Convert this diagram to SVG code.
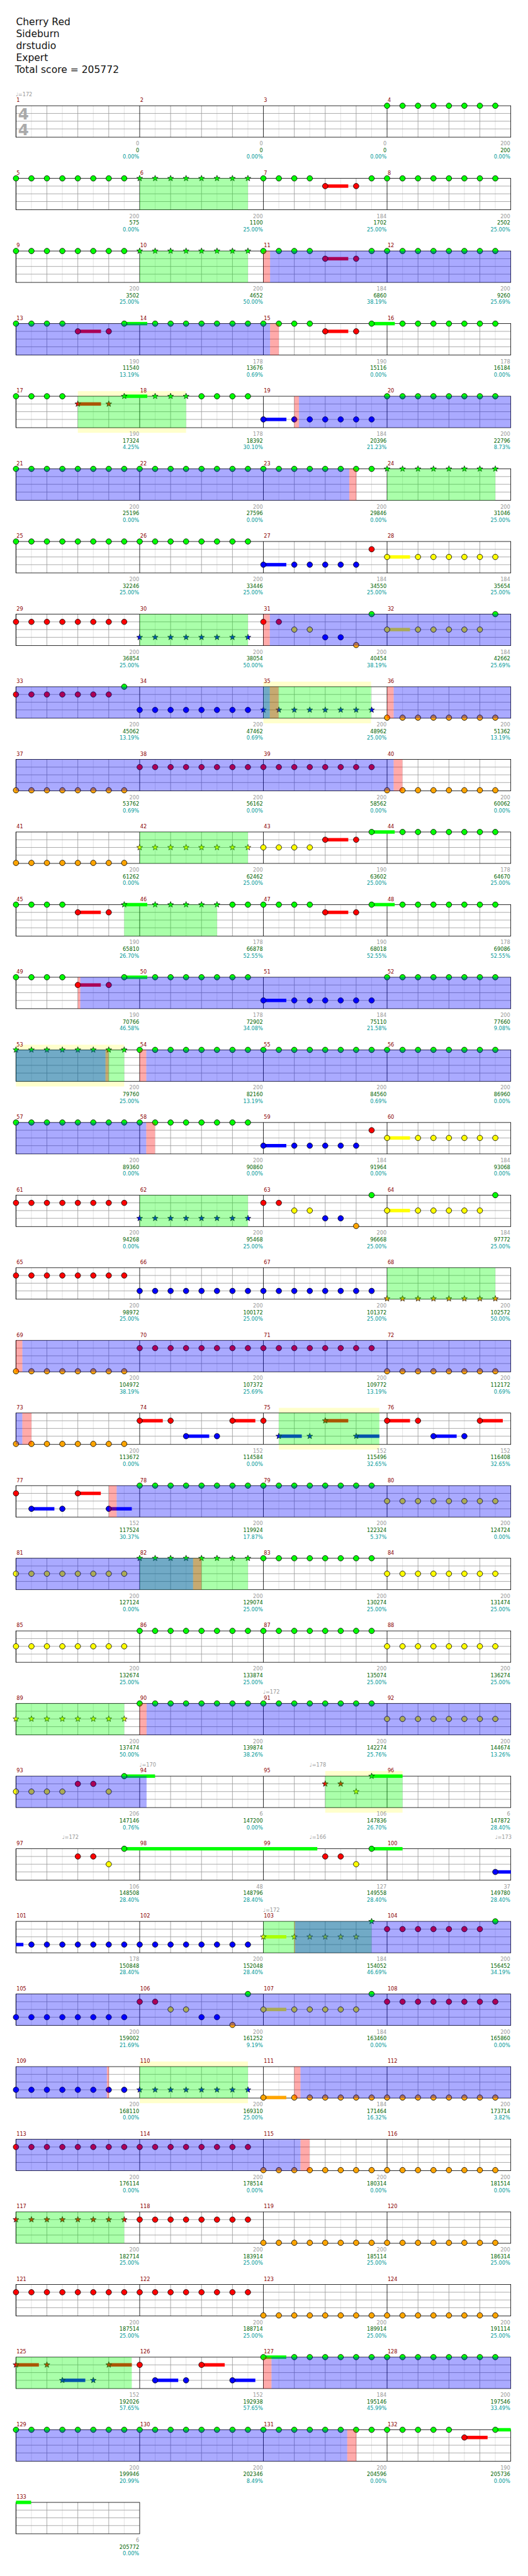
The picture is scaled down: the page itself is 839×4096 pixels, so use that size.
<svg xmlns="http://www.w3.org/2000/svg" width="839" height="4096" viewBox="0 0 839 4096">
<style>
text{font-family:"DejaVu Sans",Verdana,sans-serif}
.t{font-size:19px;fill:#111}
.m{font-size:10px;fill:#8b0000}
.tp{font-size:10px;fill:#999}
.lb{font-size:10px;text-anchor:end}
.a{fill:#999}.b{fill:#006400}.c{fill:#009999}
.bg{fill:#fff}
.yl{fill:#ffffcc}
.G{fill:#00ff00}.R{fill:#ff0000}.Y{fill:#ffff00}.B{fill:#0000ff}.O{fill:#ffa500}
.og{fill:#00ff00;fill-opacity:.333}.ob{fill:#0000ff;fill-opacity:.333}.or{fill:#ff0000;fill-opacity:.333}
.ts{font-size:30px;font-weight:bold;fill:#aaa}
</style>
<defs>
<circle id="c" r="5.3" stroke="#000" stroke-width="1"/>
<path id="s" stroke="#000" stroke-width=".8" d="M0-6L1.47-2.02 5.71-1.85 2.38.77 3.53 4.85 0 2.5-3.53 4.85-2.38.77-5.71-1.85-1.47-2.02Z"/>
<g id="c4"><use href="#c"/><use href="#c" x="30"/><use href="#c" x="60"/><use href="#c" x="90"/></g>
<g id="c8"><use href="#c4"/><use href="#c4" x="120"/></g>
<g id="s4"><use href="#s"/><use href="#s" x="30"/><use href="#s" x="60"/><use href="#s" x="90"/></g>
<g id="s8"><use href="#s4"/><use href="#s4" x="120"/></g>
<g id="gm">
<path d="M30 0V61M90 0V61M150 0V61M210 0V61" stroke="#ddd" fill="none"/>
<path d="M60 0V61M120 0V61M180 0V61M0 15H240M0 30H240M0 45H240" stroke="#999" fill="none"/>
<path d="M0 0V61" stroke="#000"/>
</g>
<g id="grid"><use href="#gm" x="31"/><use href="#gm" x="271"/><use href="#gm" x="511"/><use href="#gm" x="751"/><rect x="31" width="960" height="61" fill="none" stroke="#000"/></g>
</defs>
<rect width="839" height="4096" fill="#fff"/>
<g transform="scale(0.819)">
<g id="title">
<text class="t" x="31" y="49.3">Cherry Red</text>
<text class="t" x="31" y="72.3">Sideburn</text>
<text class="t" x="31" y="95.3">drstudio</text>
<text class="t" x="31" y="118.3">Expert</text>
<text class="t" x="29" y="141.3">Total score = 205772</text>
</g>

<g id="row0" transform="translate(0,205.3)">
<rect class="bg" x="31" width="960" height="61"/><use href="#grid"/>
<text class="ts" x="35" y="26.4">4</text><text class="ts" x="35" y="56.7">4</text>
<use href="#c8" x="751" class="G"/>
<text class="tp" x="30.5" y="-19">♩=172</text>
<text class="m" y="-7"><tspan x="32">1</tspan><tspan x="272">2</tspan><tspan x="512">3</tspan><tspan x="752">4</tspan></text>
<text class="lb a" y="77"><tspan x="270">0</tspan><tspan x="510">0</tspan><tspan x="750">0</tspan><tspan x="990">200</tspan></text>
<text class="lb b" y="90"><tspan x="270">0</tspan><tspan x="510">0</tspan><tspan x="750">0</tspan><tspan x="990">200</tspan></text>
<text class="lb c" y="103"><tspan x="270">0.00%</tspan><tspan x="510">0.00%</tspan><tspan x="750">0.00%</tspan><tspan x="990">0.00%</tspan></text>
</g>

<g id="row1" transform="translate(0,346.3)">
<rect class="bg" x="31" width="960" height="61"/><use href="#grid"/>
<rect x="631" y="11.7" width="44.7" height="6.6" class="R"/>
<use href="#c8" x="31" class="G"/><use href="#s8" x="271" class="G"/><use href="#c4" x="511" class="G"/><use href="#c" x="721" class="G"/><use href="#c8" x="751" class="G"/>
<use href="#c" x="631" y="15" class="R"/><use href="#c" x="691" y="15" class="R"/>
<rect x="271" width="210" height="61" class="og"/>
<text class="m" y="-7"><tspan x="32">5</tspan><tspan x="272">6</tspan><tspan x="512">7</tspan><tspan x="752">8</tspan></text>
<text class="lb a" y="77"><tspan x="270">200</tspan><tspan x="510">200</tspan><tspan x="750">184</tspan><tspan x="990">200</tspan></text>
<text class="lb b" y="90"><tspan x="270">575</tspan><tspan x="510">1100</tspan><tspan x="750">1702</tspan><tspan x="990">2502</tspan></text>
<text class="lb c" y="103"><tspan x="270">0.00%</tspan><tspan x="510">25.00%</tspan><tspan x="750">25.00%</tspan><tspan x="990">25.00%</tspan></text>
</g>

<g id="row2" transform="translate(0,487.3)">
<rect class="bg" x="31" width="960" height="61"/><use href="#grid"/>
<rect x="631" y="11.7" width="44.7" height="6.6" class="R"/>
<use href="#c8" x="31" class="G"/><use href="#s8" x="271" class="G"/><use href="#c4" x="511" class="G"/><use href="#c" x="721" class="G"/><use href="#c8" x="751" class="G"/>
<use href="#c" x="631" y="15" class="R"/><use href="#c" x="691" y="15" class="R"/>
<rect x="271" width="210" height="61" class="og"/><rect x="511" width="13" height="61" class="or"/><rect x="524" width="467" height="61" class="ob"/>
<text class="m" y="-7"><tspan x="32">9</tspan><tspan x="272">10</tspan><tspan x="512">11</tspan><tspan x="752">12</tspan></text>
<text class="lb a" y="77"><tspan x="270">200</tspan><tspan x="510">200</tspan><tspan x="750">184</tspan><tspan x="990">200</tspan></text>
<text class="lb b" y="90"><tspan x="270">3502</tspan><tspan x="510">4652</tspan><tspan x="750">6860</tspan><tspan x="990">9260</tspan></text>
<text class="lb c" y="103"><tspan x="270">25.00%</tspan><tspan x="510">50.00%</tspan><tspan x="750">38.19%</tspan><tspan x="990">25.69%</tspan></text>
</g>

<g id="row3" transform="translate(0,628.3)">
<rect class="bg" x="31" width="960" height="61"/><use href="#grid"/>
<rect x="151" y="11.7" width="45" height="6.6" class="R"/><rect x="241" y="-3.3" width="44.7" height="6.6" class="G"/><rect x="631" y="11.7" width="44.7" height="6.6" class="R"/><rect x="721" y="-3.3" width="45" height="6.6" class="G"/>
<use href="#c4" x="31" class="G"/><use href="#c" x="241" class="G"/><use href="#c8" x="301" class="G"/><use href="#c" x="541" class="G"/><use href="#c" x="571" class="G"/><use href="#c" x="601" class="G"/><use href="#c" x="721" class="G"/><use href="#c4" x="781" class="G"/><use href="#c" x="901" class="G"/><use href="#c" x="931" class="G"/><use href="#c" x="961" class="G"/>
<use href="#c" x="151" y="15" class="R"/><use href="#c" x="211" y="15" class="R"/><use href="#c" x="631" y="15" class="R"/><use href="#c" x="691" y="15" class="R"/>
<rect x="31" width="493" height="61" class="ob"/><rect x="524" width="17" height="61" class="or"/>
<text class="m" y="-7"><tspan x="32">13</tspan><tspan x="272">14</tspan><tspan x="512">15</tspan><tspan x="752">16</tspan></text>
<text class="lb a" y="77"><tspan x="270">190</tspan><tspan x="510">178</tspan><tspan x="750">190</tspan><tspan x="990">178</tspan></text>
<text class="lb b" y="90"><tspan x="270">11540</tspan><tspan x="510">13676</tspan><tspan x="750">15116</tspan><tspan x="990">16184</tspan></text>
<text class="lb c" y="103"><tspan x="270">13.19%</tspan><tspan x="510">0.69%</tspan><tspan x="750">0.00%</tspan><tspan x="990">0.00%</tspan></text>
</g>

<g id="row4" transform="translate(0,769.3)">
<rect x="151" y="-10" width="210" height="81" class="yl"/>
<rect class="bg" x="31" width="960" height="61"/><use href="#grid"/>
<rect x="151" y="11.7" width="45" height="6.6" class="R"/><rect x="241" y="-3.3" width="44.7" height="6.6" class="G"/><rect x="511" y="41.7" width="44.7" height="6.6" class="B"/>
<use href="#c4" x="31" class="G"/><use href="#s" x="241" class="G"/><use href="#s" x="301" class="G"/><use href="#s" x="331" class="G"/><use href="#s" x="361" class="G"/><use href="#c4" x="391" class="G"/><use href="#c8" x="751" class="G"/>
<use href="#s" x="151" y="15" class="R"/><use href="#s" x="211" y="15" class="R"/>
<use href="#c" x="511" y="45" class="B"/><use href="#c" x="571" y="45" class="B"/><use href="#c" x="601" y="45" class="B"/><use href="#c" x="631" y="45" class="B"/><use href="#c" x="661" y="45" class="B"/><use href="#c" x="691" y="45" class="B"/><use href="#c" x="721" y="45" class="B"/>
<rect x="151" width="210" height="61" class="og"/><rect x="571" width="9" height="61" class="or"/><rect x="580" width="411" height="61" class="ob"/>
<text class="m" y="-7"><tspan x="32">17</tspan><tspan x="272">18</tspan><tspan x="512">19</tspan><tspan x="752">20</tspan></text>
<text class="lb a" y="77"><tspan x="270">190</tspan><tspan x="510">178</tspan><tspan x="750">184</tspan><tspan x="990">200</tspan></text>
<text class="lb b" y="90"><tspan x="270">17324</tspan><tspan x="510">18392</tspan><tspan x="750">20396</tspan><tspan x="990">22796</tspan></text>
<text class="lb c" y="103"><tspan x="270">4.25%</tspan><tspan x="510">30.10%</tspan><tspan x="750">21.23%</tspan><tspan x="990">8.73%</tspan></text>
</g>

<g id="row5" transform="translate(0,910.3)">
<rect class="bg" x="31" width="960" height="61"/><use href="#grid"/>
<use href="#c8" x="31" class="G"/><use href="#c8" x="271" class="G"/><use href="#c8" x="511" class="G"/><use href="#s8" x="751" class="G"/>
<rect x="751" width="210" height="61" class="og"/><rect x="31" width="646.6" height="61" class="ob"/><rect x="677.6" width="13.7" height="61" class="or"/>
<text class="m" y="-7"><tspan x="32">21</tspan><tspan x="272">22</tspan><tspan x="512">23</tspan><tspan x="752">24</tspan></text>
<text class="lb a" y="77"><tspan x="270">200</tspan><tspan x="510">200</tspan><tspan x="750">200</tspan><tspan x="990">200</tspan></text>
<text class="lb b" y="90"><tspan x="270">25196</tspan><tspan x="510">27596</tspan><tspan x="750">29846</tspan><tspan x="990">31046</tspan></text>
<text class="lb c" y="103"><tspan x="270">0.00%</tspan><tspan x="510">0.00%</tspan><tspan x="750">0.00%</tspan><tspan x="990">25.00%</tspan></text>
</g>

<g id="row6" transform="translate(0,1051.3)">
<rect class="bg" x="31" width="960" height="61"/><use href="#grid"/>
<rect x="511" y="41.7" width="44.5" height="6.6" class="B"/><rect x="751" y="26.7" width="44.5" height="6.6" class="Y"/>
<use href="#c8" x="31" class="G"/><use href="#c8" x="271" class="G"/>
<use href="#c" x="511" y="45" class="B"/><use href="#c" x="571" y="45" class="B"/><use href="#c" x="601" y="45" class="B"/><use href="#c" x="631" y="45" class="B"/><use href="#c" x="661" y="45" class="B"/><use href="#c" x="691" y="45" class="B"/>
<use href="#c" x="721" y="15" class="R"/>
<use href="#c" x="751" y="30" class="Y"/><use href="#c" x="811" y="30" class="Y"/><use href="#c" x="841" y="30" class="Y"/><use href="#c" x="871" y="30" class="Y"/><use href="#c" x="901" y="30" class="Y"/><use href="#c" x="931" y="30" class="Y"/><use href="#c" x="961" y="30" class="Y"/>
<text class="m" y="-7"><tspan x="32">25</tspan><tspan x="272">26</tspan><tspan x="512">27</tspan><tspan x="752">28</tspan></text>
<text class="lb a" y="77"><tspan x="270">200</tspan><tspan x="510">200</tspan><tspan x="750">184</tspan><tspan x="990">184</tspan></text>
<text class="lb b" y="90"><tspan x="270">32246</tspan><tspan x="510">33446</tspan><tspan x="750">34550</tspan><tspan x="990">35654</tspan></text>
<text class="lb c" y="103"><tspan x="270">25.00%</tspan><tspan x="510">25.00%</tspan><tspan x="750">25.00%</tspan><tspan x="990">25.00%</tspan></text>
</g>

<g id="row7" transform="translate(0,1192.3)">
<rect class="bg" x="31" width="960" height="61"/><use href="#grid"/>
<rect x="751" y="26.7" width="44.5" height="6.6" class="Y"/>
<use href="#c8" x="31" y="15" class="R"/><use href="#s8" x="271" y="45" class="B"/>
<use href="#c" x="511" y="15" class="R"/><use href="#c" x="541" y="15" class="R"/><use href="#c" x="571" y="30" class="Y"/><use href="#c" x="601" y="30" class="Y"/><use href="#c" x="631" y="45" class="B"/><use href="#c" x="661" y="45" class="B"/><use href="#c" x="691" y="60" class="O"/><use href="#c" x="721" class="G"/>
<use href="#c" x="751" y="30" class="Y"/><use href="#c" x="811" y="30" class="Y"/><use href="#c" x="841" y="30" class="Y"/><use href="#c" x="871" y="30" class="Y"/><use href="#c" x="901" y="30" class="Y"/><use href="#c" x="931" y="30" class="Y"/><use href="#c" x="961" class="G"/>
<rect x="271" width="210" height="61" class="og"/><rect x="511" width="12.5" height="61" class="or"/><rect x="523.5" width="467.5" height="61" class="ob"/>
<text class="m" y="-7"><tspan x="32">29</tspan><tspan x="272">30</tspan><tspan x="512">31</tspan><tspan x="752">32</tspan></text>
<text class="lb a" y="77"><tspan x="270">200</tspan><tspan x="510">200</tspan><tspan x="750">200</tspan><tspan x="990">184</tspan></text>
<text class="lb b" y="90"><tspan x="270">36854</tspan><tspan x="510">38054</tspan><tspan x="750">40454</tspan><tspan x="990">42662</tspan></text>
<text class="lb c" y="103"><tspan x="270">25.00%</tspan><tspan x="510">50.00%</tspan><tspan x="750">38.19%</tspan><tspan x="990">25.69%</tspan></text>
</g>

<g id="row8" transform="translate(0,1333.3)">
<rect x="511" y="-10" width="209" height="81" class="yl"/>
<rect class="bg" x="31" width="960" height="61"/><use href="#grid"/>
<use href="#c4" x="31" y="15" class="R"/><use href="#c" x="151" y="15" class="R"/><use href="#c" x="181" y="15" class="R"/><use href="#c" x="211" y="15" class="R"/><use href="#c" x="241" class="G"/>
<use href="#c8" x="271" y="45" class="B"/><use href="#s8" x="511" y="45" class="B"/><use href="#c8" x="751" y="60" class="O"/>
<rect x="511" width="209" height="61" class="og"/><rect x="31" width="492.5" height="61" class="ob"/><rect x="523.5" width="17" height="61" class="or"/><rect x="751" width="12.8" height="61" class="or"/><rect x="763.8" width="227.2" height="61" class="ob"/>
<text class="m" y="-7"><tspan x="32">33</tspan><tspan x="272">34</tspan><tspan x="512">35</tspan><tspan x="752">36</tspan></text>
<text class="lb a" y="77"><tspan x="270">200</tspan><tspan x="510">200</tspan><tspan x="750">200</tspan><tspan x="990">200</tspan></text>
<text class="lb b" y="90"><tspan x="270">45062</tspan><tspan x="510">47462</tspan><tspan x="750">48962</tspan><tspan x="990">51362</tspan></text>
<text class="lb c" y="103"><tspan x="270">13.19%</tspan><tspan x="510">0.69%</tspan><tspan x="750">25.00%</tspan><tspan x="990">13.19%</tspan></text>
</g>

<g id="row9" transform="translate(0,1474.3)">
<rect class="bg" x="31" width="960" height="61"/><use href="#grid"/>
<use href="#c8" x="31" y="60" class="O"/><use href="#c8" x="271" y="15" class="R"/><use href="#c8" x="511" y="15" class="R"/><use href="#c8" x="751" y="60" class="O"/>
<rect x="31" width="732.8" height="61" class="ob"/><rect x="763.8" width="17" height="61" class="or"/>
<text class="m" y="-7"><tspan x="32">37</tspan><tspan x="272">38</tspan><tspan x="512">39</tspan><tspan x="752">40</tspan></text>
<text class="lb a" y="77"><tspan x="270">200</tspan><tspan x="510">200</tspan><tspan x="750">200</tspan><tspan x="990">200</tspan></text>
<text class="lb b" y="90"><tspan x="270">53762</tspan><tspan x="510">56162</tspan><tspan x="750">58562</tspan><tspan x="990">60062</tspan></text>
<text class="lb c" y="103"><tspan x="270">0.69%</tspan><tspan x="510">0.00%</tspan><tspan x="750">0.00%</tspan><tspan x="990">0.00%</tspan></text>
</g>

<g id="row10" transform="translate(0,1615.3)">
<rect class="bg" x="31" width="960" height="61"/><use href="#grid"/>
<rect x="631" y="11.7" width="44.7" height="6.6" class="R"/><rect x="721" y="-3.3" width="44.8" height="6.6" class="G"/>
<use href="#c8" x="31" y="60" class="O"/><use href="#s8" x="271" y="30" class="Y"/><use href="#c4" x="511" y="30" class="Y"/>
<use href="#c" x="631" y="15" class="R"/><use href="#c" x="691" y="15" class="R"/>
<use href="#c" x="721" class="G"/><use href="#c4" x="781" class="G"/><use href="#c" x="901" class="G"/><use href="#c" x="931" class="G"/><use href="#c" x="961" class="G"/>
<rect x="271" width="210" height="61" class="og"/>
<text class="m" y="-7"><tspan x="32">41</tspan><tspan x="272">42</tspan><tspan x="512">43</tspan><tspan x="752">44</tspan></text>
<text class="lb a" y="77"><tspan x="270">200</tspan><tspan x="510">200</tspan><tspan x="750">190</tspan><tspan x="990">178</tspan></text>
<text class="lb b" y="90"><tspan x="270">61262</tspan><tspan x="510">62462</tspan><tspan x="750">63602</tspan><tspan x="990">64670</tspan></text>
<text class="lb c" y="103"><tspan x="270">0.00%</tspan><tspan x="510">25.00%</tspan><tspan x="750">25.00%</tspan><tspan x="990">25.00%</tspan></text>
</g>

<g id="row11" transform="translate(0,1756.3)">
<rect class="bg" x="31" width="960" height="61"/><use href="#grid"/>
<rect x="151" y="11.7" width="44.6" height="6.6" class="R"/><rect x="241" y="-3.3" width="44.7" height="6.6" class="G"/><rect x="631" y="11.7" width="44.7" height="6.6" class="R"/><rect x="721" y="-3.3" width="44.8" height="6.6" class="G"/>
<use href="#c4" x="31" class="G"/><use href="#s" x="241" class="G"/><use href="#s" x="301" class="G"/><use href="#s" x="331" class="G"/><use href="#s" x="361" class="G"/><use href="#s" x="391" class="G"/><use href="#s" x="421" class="G"/><use href="#c" x="451" class="G"/><use href="#c" x="481" class="G"/><use href="#c4" x="511" class="G"/>
<use href="#c" x="721" class="G"/><use href="#c4" x="781" class="G"/><use href="#c" x="901" class="G"/><use href="#c" x="931" class="G"/><use href="#c" x="961" class="G"/>
<use href="#c" x="151" y="15" class="R"/><use href="#c" x="211" y="15" class="R"/><use href="#c" x="631" y="15" class="R"/><use href="#c" x="691" y="15" class="R"/>
<rect x="241" width="180" height="61" class="og"/>
<text class="m" y="-7"><tspan x="32">45</tspan><tspan x="272">46</tspan><tspan x="512">47</tspan><tspan x="752">48</tspan></text>
<text class="lb a" y="77"><tspan x="270">190</tspan><tspan x="510">178</tspan><tspan x="750">190</tspan><tspan x="990">178</tspan></text>
<text class="lb b" y="90"><tspan x="270">65810</tspan><tspan x="510">66878</tspan><tspan x="750">68018</tspan><tspan x="990">69086</tspan></text>
<text class="lb c" y="103"><tspan x="270">26.70%</tspan><tspan x="510">52.55%</tspan><tspan x="750">52.55%</tspan><tspan x="990">52.55%</tspan></text>
</g>

<g id="row12" transform="translate(0,1897.3)">
<rect class="bg" x="31" width="960" height="61"/><use href="#grid"/>
<rect x="151" y="11.7" width="44.6" height="6.6" class="R"/><rect x="241" y="-3.3" width="44.7" height="6.6" class="G"/><rect x="511" y="41.7" width="44.5" height="6.6" class="B"/>
<use href="#c4" x="31" class="G"/><use href="#c" x="241" class="G"/><use href="#c4" x="301" class="G"/><use href="#c" x="421" class="G"/><use href="#c" x="451" class="G"/><use href="#c" x="481" class="G"/><use href="#c8" x="751" class="G"/>
<use href="#c" x="151" y="15" class="R"/><use href="#c" x="211" y="15" class="R"/>
<use href="#c" x="511" y="45" class="B"/><use href="#c" x="571" y="45" class="B"/><use href="#c" x="601" y="45" class="B"/><use href="#c" x="631" y="45" class="B"/><use href="#c" x="661" y="45" class="B"/><use href="#c" x="691" y="45" class="B"/><use href="#c" x="721" y="45" class="B"/>
<rect x="151.2" width="4.6" height="61" class="or"/><rect x="155.8" width="835.2" height="61" class="ob"/>
<text class="m" y="-7"><tspan x="32">49</tspan><tspan x="272">50</tspan><tspan x="512">51</tspan><tspan x="752">52</tspan></text>
<text class="lb a" y="77"><tspan x="270">190</tspan><tspan x="510">178</tspan><tspan x="750">184</tspan><tspan x="990">200</tspan></text>
<text class="lb b" y="90"><tspan x="270">70766</tspan><tspan x="510">72902</tspan><tspan x="750">75110</tspan><tspan x="990">77660</tspan></text>
<text class="lb c" y="103"><tspan x="270">46.58%</tspan><tspan x="510">34.08%</tspan><tspan x="750">21.58%</tspan><tspan x="990">9.08%</tspan></text>
</g>

<g id="row13" transform="translate(0,2038.3)">
<rect x="31" y="-10" width="210" height="81" class="yl"/>
<rect class="bg" x="31" width="960" height="61"/><use href="#grid"/>
<use href="#s8" x="31" class="G"/><use href="#c8" x="271" class="G"/><use href="#c8" x="511" class="G"/><use href="#c8" x="751" class="G"/>
<rect x="31" width="210" height="61" class="og"/><rect x="31" width="173.7" height="61" class="ob"/><rect x="204.7" width="5.9" height="61" class="or"/><rect x="271" width="12.8" height="61" class="or"/><rect x="283.8" width="707.2" height="61" class="ob"/>
<text class="m" y="-7"><tspan x="32">53</tspan><tspan x="272">54</tspan><tspan x="512">55</tspan><tspan x="752">56</tspan></text>
<text class="lb a" y="77"><tspan x="270">200</tspan><tspan x="510">200</tspan><tspan x="750">200</tspan><tspan x="990">200</tspan></text>
<text class="lb b" y="90"><tspan x="270">79760</tspan><tspan x="510">82160</tspan><tspan x="750">84560</tspan><tspan x="990">86960</tspan></text>
<text class="lb c" y="103"><tspan x="270">25.00%</tspan><tspan x="510">13.19%</tspan><tspan x="750">0.69%</tspan><tspan x="990">0.00%</tspan></text>
</g>

<g id="row14" transform="translate(0,2179.3)">
<rect class="bg" x="31" width="960" height="61"/><use href="#grid"/>
<rect x="511" y="41.7" width="44.5" height="6.6" class="B"/><rect x="751" y="26.7" width="44.5" height="6.6" class="Y"/>
<use href="#c8" x="31" class="G"/><use href="#c8" x="271" class="G"/>
<use href="#c" x="511" y="45" class="B"/><use href="#c" x="571" y="45" class="B"/><use href="#c" x="601" y="45" class="B"/><use href="#c" x="631" y="45" class="B"/><use href="#c" x="661" y="45" class="B"/><use href="#c" x="691" y="45" class="B"/>
<use href="#c" x="721" y="15" class="R"/>
<use href="#c" x="751" y="30" class="Y"/><use href="#c" x="811" y="30" class="Y"/><use href="#c" x="841" y="30" class="Y"/><use href="#c" x="871" y="30" class="Y"/><use href="#c" x="901" y="30" class="Y"/><use href="#c" x="931" y="30" class="Y"/><use href="#c" x="961" y="30" class="Y"/>
<rect x="31" width="252.8" height="61" class="ob"/><rect x="283.8" width="17" height="61" class="or"/>
<text class="m" y="-7"><tspan x="32">57</tspan><tspan x="272">58</tspan><tspan x="512">59</tspan><tspan x="752">60</tspan></text>
<text class="lb a" y="77"><tspan x="270">200</tspan><tspan x="510">200</tspan><tspan x="750">184</tspan><tspan x="990">184</tspan></text>
<text class="lb b" y="90"><tspan x="270">89360</tspan><tspan x="510">90860</tspan><tspan x="750">91964</tspan><tspan x="990">93068</tspan></text>
<text class="lb c" y="103"><tspan x="270">0.00%</tspan><tspan x="510">0.00%</tspan><tspan x="750">0.00%</tspan><tspan x="990">0.00%</tspan></text>
</g>

<g id="row15" transform="translate(0,2320.3)">
<rect class="bg" x="31" width="960" height="61"/><use href="#grid"/>
<rect x="751" y="26.7" width="44.5" height="6.6" class="Y"/>
<use href="#c8" x="31" y="15" class="R"/><use href="#s8" x="271" y="45" class="B"/>
<use href="#c" x="511" y="15" class="R"/><use href="#c" x="541" y="15" class="R"/><use href="#c" x="571" y="30" class="Y"/><use href="#c" x="601" y="30" class="Y"/><use href="#c" x="631" y="45" class="B"/><use href="#c" x="661" y="45" class="B"/><use href="#c" x="691" y="60" class="O"/><use href="#c" x="721" class="G"/>
<use href="#c" x="751" y="30" class="Y"/><use href="#c" x="811" y="30" class="Y"/><use href="#c" x="841" y="30" class="Y"/><use href="#c" x="871" y="30" class="Y"/><use href="#c" x="901" y="30" class="Y"/><use href="#c" x="931" y="30" class="Y"/><use href="#c" x="961" class="G"/>
<rect x="271" width="210" height="61" class="og"/>
<text class="m" y="-7"><tspan x="32">61</tspan><tspan x="272">62</tspan><tspan x="512">63</tspan><tspan x="752">64</tspan></text>
<text class="lb a" y="77"><tspan x="270">200</tspan><tspan x="510">200</tspan><tspan x="750">200</tspan><tspan x="990">184</tspan></text>
<text class="lb b" y="90"><tspan x="270">94268</tspan><tspan x="510">95468</tspan><tspan x="750">96668</tspan><tspan x="990">97772</tspan></text>
<text class="lb c" y="103"><tspan x="270">0.00%</tspan><tspan x="510">25.00%</tspan><tspan x="750">25.00%</tspan><tspan x="990">25.00%</tspan></text>
</g>

<g id="row16" transform="translate(0,2461.3)">
<rect class="bg" x="31" width="960" height="61"/><use href="#grid"/>
<use href="#c8" x="31" y="15" class="R"/><use href="#c8" x="271" y="45" class="B"/><use href="#c8" x="511" y="45" class="B"/><use href="#s8" x="751" y="60" class="O"/>
<rect x="751" width="210" height="61" class="og"/>
<text class="m" y="-7"><tspan x="32">65</tspan><tspan x="272">66</tspan><tspan x="512">67</tspan><tspan x="752">68</tspan></text>
<text class="lb a" y="77"><tspan x="270">200</tspan><tspan x="510">200</tspan><tspan x="750">200</tspan><tspan x="990">200</tspan></text>
<text class="lb b" y="90"><tspan x="270">98972</tspan><tspan x="510">100172</tspan><tspan x="750">101372</tspan><tspan x="990">102572</tspan></text>
<text class="lb c" y="103"><tspan x="270">25.00%</tspan><tspan x="510">25.00%</tspan><tspan x="750">25.00%</tspan><tspan x="990">50.00%</tspan></text>
</g>

<g id="row17" transform="translate(0,2602.3)">
<rect class="bg" x="31" width="960" height="61"/><use href="#grid"/>
<use href="#c8" x="31" y="60" class="O"/><use href="#c8" x="271" y="15" class="R"/><use href="#c8" x="511" y="15" class="R"/><use href="#c8" x="751" y="60" class="O"/>
<rect x="31" width="12.4" height="61" class="or"/><rect x="43.4" width="947.6" height="61" class="ob"/>
<text class="m" y="-7"><tspan x="32">69</tspan><tspan x="272">70</tspan><tspan x="512">71</tspan><tspan x="752">72</tspan></text>
<text class="lb a" y="77"><tspan x="270">200</tspan><tspan x="510">200</tspan><tspan x="750">200</tspan><tspan x="990">200</tspan></text>
<text class="lb b" y="90"><tspan x="270">104972</tspan><tspan x="510">107372</tspan><tspan x="750">109772</tspan><tspan x="990">112172</tspan></text>
<text class="lb c" y="103"><tspan x="270">38.19%</tspan><tspan x="510">25.69%</tspan><tspan x="750">13.19%</tspan><tspan x="990">0.69%</tspan></text>
</g>

<g id="row18" transform="translate(0,2743.3)">
<rect x="541" y="-10" width="195" height="81" class="yl"/>
<rect class="bg" x="31" width="960" height="61"/><use href="#grid"/>
<rect x="271" y="11.7" width="44.8" height="6.6" class="R"/><rect x="361" y="41.7" width="44.9" height="6.6" class="B"/><rect x="451" y="11.7" width="44.4" height="6.6" class="R"/><rect x="541" y="41.7" width="44.5" height="6.6" class="B"/><rect x="631" y="11.7" width="44.7" height="6.6" class="R"/><rect x="691" y="41.7" width="45" height="6.6" class="B"/><rect x="751" y="11.7" width="44.5" height="6.6" class="R"/><rect x="841" y="41.7" width="45" height="6.6" class="B"/><rect x="931" y="11.7" width="44.5" height="6.6" class="R"/>
<use href="#c8" x="31" y="60" class="O"/>
<use href="#c" x="271" y="15" class="R"/><use href="#c" x="331" y="15" class="R"/><use href="#c" x="451" y="15" class="R"/><use href="#c" x="511" y="15" class="R"/>
<use href="#c" x="361" y="45" class="B"/><use href="#c" x="421" y="45" class="B"/>
<use href="#s" x="541" y="45" class="B"/><use href="#s" x="601" y="45" class="B"/><use href="#s" x="691" y="45" class="B"/><use href="#s" x="631" y="15" class="R"/>
<use href="#c" x="751" y="15" class="R"/><use href="#c" x="811" y="15" class="R"/><use href="#c" x="931" y="15" class="R"/><use href="#c" x="841" y="45" class="B"/><use href="#c" x="901" y="45" class="B"/>
<rect x="31" width="12.4" height="61" class="ob"/><rect x="43.4" width="17.6" height="61" class="or"/><rect x="541" width="195" height="61" class="og"/>
<text class="m" y="-7"><tspan x="32">73</tspan><tspan x="272">74</tspan><tspan x="512">75</tspan><tspan x="752">76</tspan></text>
<text class="lb a" y="77"><tspan x="270">200</tspan><tspan x="510">152</tspan><tspan x="750">152</tspan><tspan x="990">152</tspan></text>
<text class="lb b" y="90"><tspan x="270">113672</tspan><tspan x="510">114584</tspan><tspan x="750">115496</tspan><tspan x="990">116408</tspan></text>
<text class="lb c" y="103"><tspan x="270">0.00%</tspan><tspan x="510">0.00%</tspan><tspan x="750">32.65%</tspan><tspan x="990">32.65%</tspan></text>
</g>

<g id="row19" transform="translate(0,2884.3)">
<rect class="bg" x="31" width="960" height="61"/><use href="#grid"/>
<rect x="61" y="41.7" width="44.5" height="6.6" class="B"/><rect x="151" y="11.7" width="44.6" height="6.6" class="R"/><rect x="211" y="41.7" width="44.7" height="6.6" class="B"/>
<use href="#c" x="31" y="15" class="R"/><use href="#c" x="151" y="15" class="R"/>
<use href="#c" x="61" y="45" class="B"/><use href="#c" x="121" y="45" class="B"/><use href="#c" x="211" y="45" class="B"/>
<use href="#c8" x="271" class="G"/><use href="#c8" x="511" class="G"/><use href="#c8" x="751" y="30" class="Y"/>
<rect x="211.3" width="15" height="61" class="or"/><rect x="226.3" width="764.7" height="61" class="ob"/>
<text class="m" y="-7"><tspan x="32">77</tspan><tspan x="272">78</tspan><tspan x="512">79</tspan><tspan x="752">80</tspan></text>
<text class="lb a" y="77"><tspan x="270">152</tspan><tspan x="510">200</tspan><tspan x="750">200</tspan><tspan x="990">200</tspan></text>
<text class="lb b" y="90"><tspan x="270">117524</tspan><tspan x="510">119924</tspan><tspan x="750">122324</tspan><tspan x="990">124724</tspan></text>
<text class="lb c" y="103"><tspan x="270">30.37%</tspan><tspan x="510">17.87%</tspan><tspan x="750">5.37%</tspan><tspan x="990">0.00%</tspan></text>
</g>

<g id="row20" transform="translate(0,3025.3)">
<rect class="bg" x="31" width="960" height="61"/><use href="#grid"/>
<use href="#c8" x="31" y="30" class="Y"/><use href="#s8" x="271" class="G"/><use href="#c8" x="511" class="G"/><use href="#c8" x="751" y="30" class="Y"/>
<rect x="271" width="210" height="61" class="og"/><rect x="31" width="343.6" height="61" class="ob"/><rect x="374.6" width="16.3" height="61" class="or"/>
<text class="m" y="-7"><tspan x="32">81</tspan><tspan x="272">82</tspan><tspan x="512">83</tspan><tspan x="752">84</tspan></text>
<text class="lb a" y="77"><tspan x="270">200</tspan><tspan x="510">200</tspan><tspan x="750">200</tspan><tspan x="990">200</tspan></text>
<text class="lb b" y="90"><tspan x="270">127124</tspan><tspan x="510">129074</tspan><tspan x="750">130274</tspan><tspan x="990">131474</tspan></text>
<text class="lb c" y="103"><tspan x="270">0.00%</tspan><tspan x="510">25.00%</tspan><tspan x="750">25.00%</tspan><tspan x="990">25.00%</tspan></text>
</g>

<g id="row21" transform="translate(0,3166.3)">
<rect class="bg" x="31" width="960" height="61"/><use href="#grid"/>
<use href="#c8" x="31" y="30" class="Y"/><use href="#c8" x="271" class="G"/><use href="#c8" x="511" class="G"/><use href="#c8" x="751" y="30" class="Y"/>
<text class="m" y="-7"><tspan x="32">85</tspan><tspan x="272">86</tspan><tspan x="512">87</tspan><tspan x="752">88</tspan></text>
<text class="lb a" y="77"><tspan x="270">200</tspan><tspan x="510">200</tspan><tspan x="750">200</tspan><tspan x="990">200</tspan></text>
<text class="lb b" y="90"><tspan x="270">132674</tspan><tspan x="510">133874</tspan><tspan x="750">135074</tspan><tspan x="990">136274</tspan></text>
<text class="lb c" y="103"><tspan x="270">25.00%</tspan><tspan x="510">25.00%</tspan><tspan x="750">25.00%</tspan><tspan x="990">25.00%</tspan></text>
</g>

<g id="row22" transform="translate(0,3307.3)">
<rect class="bg" x="31" width="960" height="61"/><use href="#grid"/>
<use href="#s8" x="31" y="30" class="Y"/><use href="#c8" x="271" class="G"/><use href="#c8" x="511" class="G"/><use href="#c8" x="751" y="30" class="Y"/>
<rect x="31" width="210" height="61" class="og"/><rect x="271" width="13.4" height="61" class="or"/><rect x="284.4" width="706.6" height="61" class="ob"/>
<text class="tp" x="510.5" y="-19">♩=172</text>
<text class="m" y="-7"><tspan x="32">89</tspan><tspan x="272">90</tspan><tspan x="512">91</tspan><tspan x="752">92</tspan></text>
<text class="lb a" y="77"><tspan x="270">200</tspan><tspan x="510">200</tspan><tspan x="750">200</tspan><tspan x="990">200</tspan></text>
<text class="lb b" y="90"><tspan x="270">137474</tspan><tspan x="510">139874</tspan><tspan x="750">142274</tspan><tspan x="990">144674</tspan></text>
<text class="lb c" y="103"><tspan x="270">50.00%</tspan><tspan x="510">38.26%</tspan><tspan x="750">25.76%</tspan><tspan x="990">13.26%</tspan></text>
</g>

<g id="row23" transform="translate(0,3448.3)">
<rect x="631" y="-10" width="150" height="81" class="yl"/>
<rect class="bg" x="31" width="960" height="61"/><use href="#grid"/>
<rect x="241" y="-3.3" width="59.8" height="6.6" class="G"/><rect x="721" y="-3.3" width="60" height="6.6" class="G"/>
<use href="#c4" x="31" y="30" class="Y"/><use href="#c" x="151" y="15" class="R"/><use href="#c" x="181" y="15" class="R"/><use href="#c" x="211" y="30" class="Y"/><use href="#c" x="241" class="G"/>
<use href="#s" x="631" y="15" class="R"/><use href="#s" x="661" y="15" class="R"/><use href="#s" x="691" y="30" class="Y"/><use href="#s" x="721" class="G"/>
<rect x="31" width="253.4" height="61" class="ob"/><rect x="631" width="150" height="61" class="og"/>
<text class="tp" x="270.5" y="-19">♩=170</text><text class="tp" x="600.5" y="-19">♩=178</text>
<text class="m" y="-7"><tspan x="32">93</tspan><tspan x="272">94</tspan><tspan x="512">95</tspan><tspan x="752">96</tspan></text>
<text class="lb a" y="77"><tspan x="270">206</tspan><tspan x="510">6</tspan><tspan x="750">106</tspan><tspan x="990">6</tspan></text>
<text class="lb b" y="90"><tspan x="270">147146</tspan><tspan x="510">147200</tspan><tspan x="750">147836</tspan><tspan x="990">147872</tspan></text>
<text class="lb c" y="103"><tspan x="270">0.76%</tspan><tspan x="510">0.00%</tspan><tspan x="750">26.70%</tspan><tspan x="990">28.40%</tspan></text>
</g>

<g id="row24" transform="translate(0,3589.3)">
<rect class="bg" x="31" width="960" height="61"/><use href="#grid"/>
<rect x="241" y="-3.3" width="374.6" height="6.6" class="G"/><rect x="721" y="-3.3" width="60" height="6.6" class="G"/><rect x="961" y="41.7" width="30" height="6.6" class="B"/>
<use href="#c" x="151" y="15" class="R"/><use href="#c" x="181" y="15" class="R"/><use href="#c" x="631" y="15" class="R"/><use href="#c" x="661" y="15" class="R"/>
<use href="#c" x="211" y="30" class="Y"/><use href="#c" x="691" y="30" class="Y"/>
<use href="#c" x="241" class="G"/><use href="#c" x="721" class="G"/><use href="#c" x="961" y="45" class="B"/>
<text class="tp" x="120.5" y="-19">♩=172</text><text class="tp" x="600.5" y="-19">♩=166</text><text class="tp" x="960.5" y="-19">♩=173</text>
<text class="m" y="-7"><tspan x="32">97</tspan><tspan x="272">98</tspan><tspan x="512">99</tspan><tspan x="752">100</tspan></text>
<text class="lb a" y="77"><tspan x="270">106</tspan><tspan x="510">48</tspan><tspan x="750">127</tspan><tspan x="990">37</tspan></text>
<text class="lb b" y="90"><tspan x="270">148508</tspan><tspan x="510">148796</tspan><tspan x="750">149558</tspan><tspan x="990">149780</tspan></text>
<text class="lb c" y="103"><tspan x="270">28.40%</tspan><tspan x="510">28.40%</tspan><tspan x="750">28.40%</tspan><tspan x="990">28.40%</tspan></text>
</g>

<g id="row25" transform="translate(0,3730.3)">
<rect class="bg" x="31" width="960" height="61"/><use href="#grid"/>
<rect x="31" y="41.7" width="14.4" height="6.6" class="B"/><rect x="511" y="26.7" width="44.5" height="6.6" class="Y"/>
<use href="#c8" x="61" y="45" class="B"/><use href="#c4" x="301" y="45" class="B"/><use href="#c" x="421" y="45" class="B"/><use href="#c" x="451" y="45" class="B"/><use href="#c" x="481" y="45" class="B"/>
<use href="#s" x="511" y="30" class="Y"/><use href="#s" x="571" y="30" class="Y"/><use href="#s" x="601" y="30" class="Y"/><use href="#s" x="631" y="30" class="Y"/><use href="#s" x="661" y="30" class="Y"/><use href="#s" x="691" y="30" class="Y"/><use href="#s" x="721" class="G"/>
<use href="#c4" x="751" y="15" class="R"/><use href="#c" x="871" y="15" class="R"/><use href="#c" x="901" y="15" class="R"/><use href="#c" x="931" y="15" class="R"/><use href="#c" x="961" class="G"/>
<rect x="511" width="210" height="61" class="og"/><rect x="571" width="1.5" height="61" class="or"/><rect x="572.5" width="418.5" height="61" class="ob"/>
<text class="tp" x="510.5" y="-19">♩=172</text>
<text class="m" y="-7"><tspan x="32">101</tspan><tspan x="272">102</tspan><tspan x="512">103</tspan><tspan x="752">104</tspan></text>
<text class="lb a" y="77"><tspan x="270">178</tspan><tspan x="510">200</tspan><tspan x="750">184</tspan><tspan x="990">200</tspan></text>
<text class="lb b" y="90"><tspan x="270">150848</tspan><tspan x="510">152048</tspan><tspan x="750">154052</tspan><tspan x="990">156452</tspan></text>
<text class="lb c" y="103"><tspan x="270">28.40%</tspan><tspan x="510">28.40%</tspan><tspan x="750">46.69%</tspan><tspan x="990">34.19%</tspan></text>
</g>

<g id="row26" transform="translate(0,3871.3)">
<rect class="bg" x="31" width="960" height="61"/><use href="#grid"/>
<rect x="511" y="26.7" width="44.5" height="6.6" class="Y"/>
<use href="#c8" x="31" y="45" class="B"/><use href="#c" x="271" y="15" class="R"/><use href="#c" x="301" y="15" class="R"/><use href="#c" x="331" y="30" class="Y"/><use href="#c" x="361" y="30" class="Y"/><use href="#c" x="391" y="45" class="B"/><use href="#c" x="421" y="45" class="B"/><use href="#c" x="451" y="60" class="O"/><use href="#c" x="481" class="G"/>
<use href="#c" x="511" y="30" class="Y"/><use href="#c" x="571" y="30" class="Y"/><use href="#c" x="601" y="30" class="Y"/><use href="#c" x="631" y="30" class="Y"/><use href="#c" x="661" y="30" class="Y"/><use href="#c" x="691" y="30" class="Y"/><use href="#c" x="721" class="G"/><use href="#c8" x="751" y="15" class="R"/>
<rect x="31" width="960" height="61" class="ob"/>
<text class="m" y="-7"><tspan x="32">105</tspan><tspan x="272">106</tspan><tspan x="512">107</tspan><tspan x="752">108</tspan></text>
<text class="lb a" y="77"><tspan x="270">200</tspan><tspan x="510">200</tspan><tspan x="750">184</tspan><tspan x="990">200</tspan></text>
<text class="lb b" y="90"><tspan x="270">159002</tspan><tspan x="510">161252</tspan><tspan x="750">163460</tspan><tspan x="990">165860</tspan></text>
<text class="lb c" y="103"><tspan x="270">21.69%</tspan><tspan x="510">9.19%</tspan><tspan x="750">0.00%</tspan><tspan x="990">0.00%</tspan></text>
</g>

<g id="row27" transform="translate(0,4012.3)">
<rect x="271" y="-10" width="210" height="81" class="yl"/>
<rect class="bg" x="31" width="960" height="61"/><use href="#grid"/>
<rect x="511" y="56.7" width="44.5" height="6.6" class="O"/>
<use href="#c8" x="31" y="45" class="B"/><use href="#s8" x="271" y="45" class="B"/>
<use href="#c" x="511" y="60" class="O"/><use href="#c4" x="571" y="60" class="O"/><use href="#c8" x="691" y="60" class="O"/><use href="#c" x="931" y="60" class="O"/><use href="#c" x="961" y="60" class="O"/>
<rect x="31" width="176.4" height="61" class="ob"/><rect x="207.4" width="3.9" height="61" class="or"/><rect x="271" width="210" height="61" class="og"/><rect x="571" width="12" height="61" class="or"/><rect x="583" width="408" height="61" class="ob"/>
<text class="m" y="-7"><tspan x="32">109</tspan><tspan x="272">110</tspan><tspan x="512">111</tspan><tspan x="752">112</tspan></text>
<text class="lb a" y="77"><tspan x="270">200</tspan><tspan x="510">200</tspan><tspan x="750">184</tspan><tspan x="990">200</tspan></text>
<text class="lb b" y="90"><tspan x="270">168110</tspan><tspan x="510">169310</tspan><tspan x="750">171464</tspan><tspan x="990">173714</tspan></text>
<text class="lb c" y="103"><tspan x="270">0.00%</tspan><tspan x="510">25.00%</tspan><tspan x="750">16.32%</tspan><tspan x="990">3.82%</tspan></text>
</g>

<g id="row28" transform="translate(0,4153.3)">
<rect class="bg" x="31" width="960" height="61"/><use href="#grid"/>
<use href="#c8" x="31" y="15" class="R"/><use href="#c8" x="271" y="15" class="R"/><use href="#c8" x="511" y="60" class="O"/><use href="#c8" x="751" y="60" class="O"/>
<rect x="31" width="552" height="61" class="ob"/><rect x="583" width="17.6" height="61" class="or"/>
<text class="m" y="-7"><tspan x="32">113</tspan><tspan x="272">114</tspan><tspan x="512">115</tspan><tspan x="752">116</tspan></text>
<text class="lb a" y="77"><tspan x="270">200</tspan><tspan x="510">200</tspan><tspan x="750">200</tspan><tspan x="990">200</tspan></text>
<text class="lb b" y="90"><tspan x="270">176114</tspan><tspan x="510">178514</tspan><tspan x="750">180314</tspan><tspan x="990">181514</tspan></text>
<text class="lb c" y="103"><tspan x="270">0.00%</tspan><tspan x="510">0.00%</tspan><tspan x="750">0.00%</tspan><tspan x="990">0.00%</tspan></text>
</g>

<g id="row29" transform="translate(0,4294.3)">
<rect class="bg" x="31" width="960" height="61"/><use href="#grid"/>
<use href="#s8" x="31" y="15" class="R"/><use href="#c8" x="271" y="15" class="R"/><use href="#c8" x="511" y="60" class="O"/><use href="#c8" x="751" y="60" class="O"/>
<rect x="31" width="210" height="61" class="og"/>
<text class="m" y="-7"><tspan x="32">117</tspan><tspan x="272">118</tspan><tspan x="512">119</tspan><tspan x="752">120</tspan></text>
<text class="lb a" y="77"><tspan x="270">200</tspan><tspan x="510">200</tspan><tspan x="750">200</tspan><tspan x="990">200</tspan></text>
<text class="lb b" y="90"><tspan x="270">182714</tspan><tspan x="510">183914</tspan><tspan x="750">185114</tspan><tspan x="990">186314</tspan></text>
<text class="lb c" y="103"><tspan x="270">25.00%</tspan><tspan x="510">25.00%</tspan><tspan x="750">25.00%</tspan><tspan x="990">25.00%</tspan></text>
</g>

<g id="row30" transform="translate(0,4435.3)">
<rect class="bg" x="31" width="960" height="61"/><use href="#grid"/>
<use href="#c8" x="31" y="15" class="R"/><use href="#c8" x="271" y="15" class="R"/><use href="#c8" x="511" y="60" class="O"/><use href="#c8" x="751" y="60" class="O"/>
<text class="m" y="-7"><tspan x="32">121</tspan><tspan x="272">122</tspan><tspan x="512">123</tspan><tspan x="752">124</tspan></text>
<text class="lb a" y="77"><tspan x="270">200</tspan><tspan x="510">200</tspan><tspan x="750">200</tspan><tspan x="990">200</tspan></text>
<text class="lb b" y="90"><tspan x="270">187514</tspan><tspan x="510">188714</tspan><tspan x="750">189914</tspan><tspan x="990">191114</tspan></text>
<text class="lb c" y="103"><tspan x="270">25.00%</tspan><tspan x="510">25.00%</tspan><tspan x="750">25.00%</tspan><tspan x="990">25.00%</tspan></text>
</g>

<g id="row31" transform="translate(0,4576.3)">
<rect class="bg" x="31" width="960" height="61"/><use href="#grid"/>
<rect x="31" y="11.7" width="44.4" height="6.6" class="R"/><rect x="121" y="41.7" width="44.5" height="6.6" class="B"/><rect x="211" y="11.7" width="44.7" height="6.6" class="R"/><rect x="301" y="41.7" width="44.8" height="6.6" class="B"/><rect x="391" y="11.7" width="45" height="6.6" class="R"/><rect x="451" y="41.7" width="44.4" height="6.6" class="B"/><rect x="511" y="-3.3" width="44.5" height="6.6" class="G"/>
<use href="#s" x="31" y="15" class="R"/><use href="#s" x="91" y="15" class="R"/><use href="#s" x="211" y="15" class="R"/><use href="#s" x="121" y="45" class="B"/><use href="#s" x="181" y="45" class="B"/>
<use href="#c" x="271" y="15" class="R"/><use href="#c" x="391" y="15" class="R"/><use href="#c" x="301" y="45" class="B"/><use href="#c" x="361" y="45" class="B"/><use href="#c" x="451" y="45" class="B"/>
<use href="#c" x="511" class="G"/><use href="#c4" x="571" class="G"/><use href="#c8" x="691" class="G"/><use href="#c" x="931" class="G"/><use href="#c" x="961" class="G"/>
<rect x="31" width="224.7" height="61" class="og"/><rect x="511" width="15.8" height="61" class="or"/><rect x="526.8" width="464.2" height="61" class="ob"/>
<text class="m" y="-7"><tspan x="32">125</tspan><tspan x="272">126</tspan><tspan x="512">127</tspan><tspan x="752">128</tspan></text>
<text class="lb a" y="77"><tspan x="270">152</tspan><tspan x="510">152</tspan><tspan x="750">184</tspan><tspan x="990">200</tspan></text>
<text class="lb b" y="90"><tspan x="270">192026</tspan><tspan x="510">192938</tspan><tspan x="750">195146</tspan><tspan x="990">197546</tspan></text>
<text class="lb c" y="103"><tspan x="270">57.65%</tspan><tspan x="510">57.65%</tspan><tspan x="750">45.99%</tspan><tspan x="990">33.49%</tspan></text>
</g>

<g id="row32" transform="translate(0,4717.3)">
<rect class="bg" x="31" width="960" height="61"/><use href="#grid"/>
<rect x="901" y="11.7" width="45" height="6.6" class="R"/><rect x="961" y="-3.3" width="30" height="6.6" class="G"/>
<use href="#c8" x="31" class="G"/><use href="#c8" x="271" class="G"/><use href="#c8" x="511" class="G"/><use href="#c4" x="751" class="G"/><use href="#c" x="871" class="G"/><use href="#c" x="901" y="15" class="R"/><use href="#c" x="961" class="G"/>
<rect x="31" width="642.7" height="61" class="ob"/><rect x="673.7" width="17.6" height="61" class="or"/>
<text class="m" y="-7"><tspan x="32">129</tspan><tspan x="272">130</tspan><tspan x="512">131</tspan><tspan x="752">132</tspan></text>
<text class="lb a" y="77"><tspan x="270">200</tspan><tspan x="510">200</tspan><tspan x="750">200</tspan><tspan x="990">190</tspan></text>
<text class="lb b" y="90"><tspan x="270">199946</tspan><tspan x="510">202346</tspan><tspan x="750">204596</tspan><tspan x="990">205736</tspan></text>
<text class="lb c" y="103"><tspan x="270">20.99%</tspan><tspan x="510">8.49%</tspan><tspan x="750">0.00%</tspan><tspan x="990">0.00%</tspan></text>
</g>

<g id="row33" transform="translate(0,4858.3)">
<rect class="bg" x="31" width="240" height="61"/><use href="#gm" x="31"/><rect x="31" width="240" height="61" fill="none" stroke="#000"/>
<rect x="31" y="-3.3" width="29.4" height="6.6" class="G"/>
<text class="m" y="-7"><tspan x="32">133</tspan></text>
<text class="lb a" y="77"><tspan x="270">6</tspan></text>
<text class="lb b" y="90"><tspan x="270">205772</tspan></text>
<text class="lb c" y="103"><tspan x="270">0.00%</tspan></text>
</g>
</g>
</svg>
